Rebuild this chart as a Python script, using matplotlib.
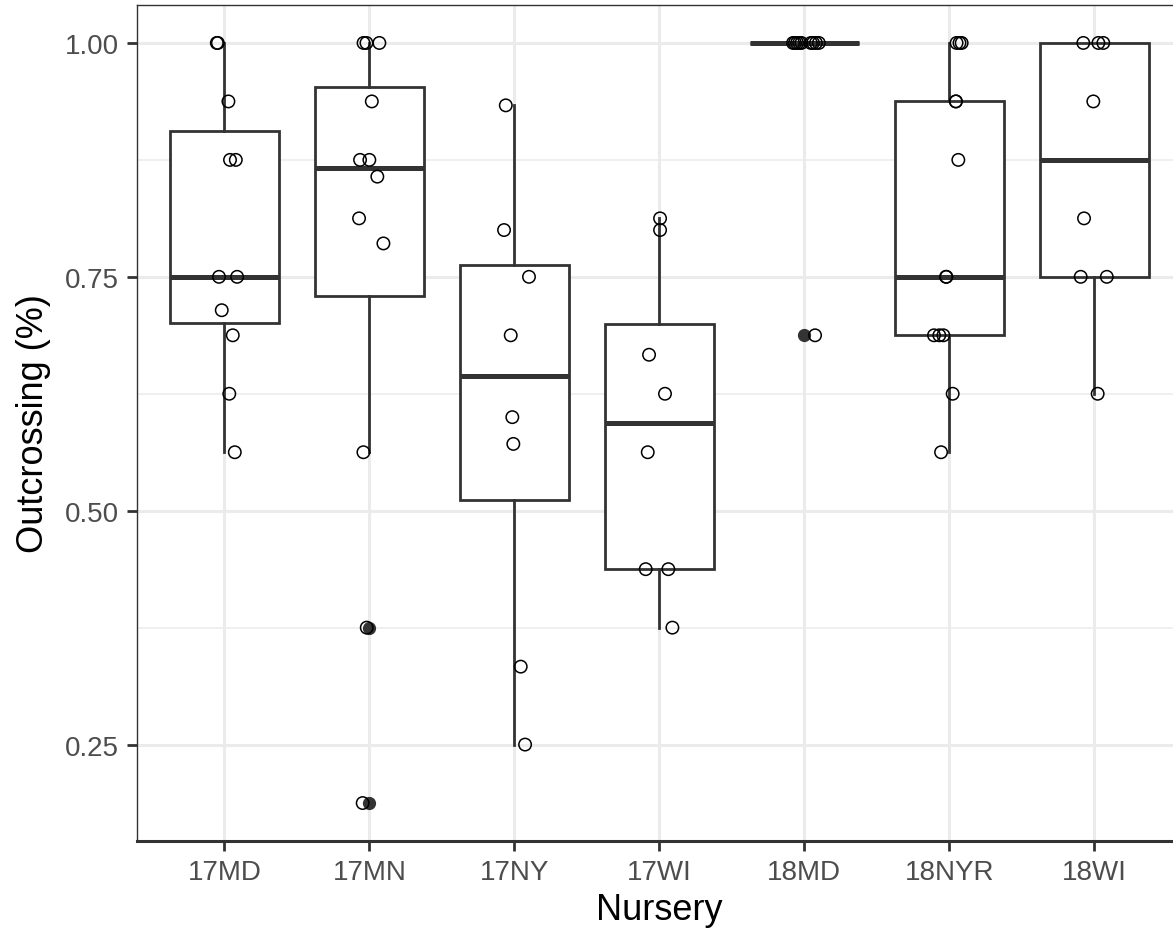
import matplotlib
matplotlib.use("Agg")
import matplotlib.pyplot as plt
import numpy as np
from matplotlib.ticker import FixedLocator

# outcrossing rate per family, grouped by nursery
nurseries = ["17MD", "17MN", "17NY", "17WI", "18MD", "18NYR", "18WI"]

out_17md = [1.0, 1.0, 0.9375, 0.875, 0.875, 0.75, 0.75, 0.7143, 0.6875, 0.625, 0.5625]
out_17mn = [1.0, 1.0, 1.0, 0.9375, 0.875, 0.875, 0.8571, 0.8125, 0.7857, 0.5625, 0.375, 0.1875]
out_17ny = [0.9333, 0.8, 0.75, 0.6875, 0.6, 0.5714, 0.3333, 0.25]
out_17wi = [0.8125, 0.8, 0.6667, 0.625, 0.5625, 0.4375, 0.4375, 0.375]
out_18md = [1.0, 1.0, 1.0, 1.0, 1.0, 1.0, 1.0, 1.0, 1.0, 0.6875]
out_18nyr = [1.0, 1.0, 1.0, 0.9375, 0.9375, 0.875, 0.75, 0.75, 0.6875, 0.6875, 0.6875, 0.625, 0.5625]
out_18wi = [1.0, 1.0, 1.0, 0.9375, 0.8125, 0.75, 0.75, 0.625]

# horizontal jitter of each point (as drawn in the original)
jit_17md = [-0.052, -0.045, 0.028, 0.039, 0.079, -0.037, 0.088, -0.018, 0.058, 0.034, 0.072]
jit_17mn = [-0.04, -0.02, 0.069, 0.017, -0.064, 0.0, 0.055, -0.071, 0.097, -0.041, -0.018, -0.046]
jit_17ny = [-0.059, -0.071, 0.101, -0.025, -0.014, -0.007, 0.044, 0.074]
jit_17wi = [0.005, 0.005, -0.071, 0.039, -0.08, -0.094, 0.062, 0.09]
jit_18md = [-0.078, -0.065, -0.05, -0.035, -0.02, 0.045, 0.06, 0.08, 0.10, 0.074]
jit_18nyr = [0.05, 0.07, 0.085, 0.044, 0.046, 0.062, -0.023, -0.02, -0.106, -0.069, -0.041, 0.023, -0.057]
jit_18wi = [-0.076, 0.028, 0.062, -0.007, -0.071, -0.094, 0.086, 0.023]

values = [out_17md, out_17mn, out_17ny, out_17wi, out_18md, out_18nyr, out_18wi]
jitters = [jit_17md, jit_17mn, jit_17ny, jit_17wi, jit_18md, jit_18nyr, jit_18wi]

plt.rcParams["font.family"] = ["Liberation Sans", "DejaVu Sans"]
DARK = "#333333"
GRID = "#EBEBEB"

fig = plt.figure(figsize=(11.73, 9.29), dpi=100)
ax = fig.add_axes([0.1171, 0.0936, 0.890, 0.90])

pos = np.arange(1, len(nurseries) + 1)
ax.boxplot(values, positions=pos, widths=0.75, patch_artist=True,
           showcaps=False, whis=1.5,
           boxprops=dict(facecolor="white", edgecolor=DARK, linewidth=2.0),
           medianprops=dict(color=DARK, linewidth=3.6, solid_capstyle="butt"),
           whiskerprops=dict(color=DARK, linewidth=2.0),
           flierprops=dict(marker="o", markerfacecolor=DARK, markeredgecolor=DARK,
                           markersize=8.5, linestyle="none"),
           zorder=2)

for p, v, j in zip(pos, values, jitters):
    ax.scatter(p + np.array(j), v, s=80, facecolors="none", edgecolors="black",
               linewidths=1.1, zorder=4)

# ggplot-like limits (5% expansion on y, 0.6 on discrete x)
lo, hi = min(min(v) for v in values), max(max(v) for v in values)
pad = 0.05 * (hi - lo)
ax.set_ylim(lo - pad, hi + pad)
ax.set_xlim(0.4, len(nurseries) + 0.6)

ax.set_xticks(pos)
ax.set_xticklabels(nurseries)
ax.set_yticks([0.25, 0.50, 0.75, 1.00])
ax.set_yticklabels(["0.25", "0.50", "0.75", "1.00"])
ax.yaxis.set_minor_locator(FixedLocator([0.375, 0.625, 0.875]))
ax.tick_params(which="minor", length=0)
ax.tick_params(which="major", length=7, width=2, color=DARK,
               labelsize=20, labelcolor="#4D4D4D", pad=6)

ax.set_axisbelow(True)
ax.grid(which="major", color=GRID, linewidth=2.2)
ax.grid(which="minor", axis="y", color=GRID, linewidth=1.1)

for side in ["left", "top", "right"]:
    ax.spines[side].set_color(DARK)
    ax.spines[side].set_linewidth(1.0)
ax.spines["bottom"].set_color(DARK)
ax.spines["bottom"].set_linewidth(2.2)

ax.set_xlabel("Nursery", fontsize=26, labelpad=5)
ax.set_ylabel("Outcrossing (%)", fontsize=26, labelpad=10)

fig.savefig("out.png", dpi=100)
